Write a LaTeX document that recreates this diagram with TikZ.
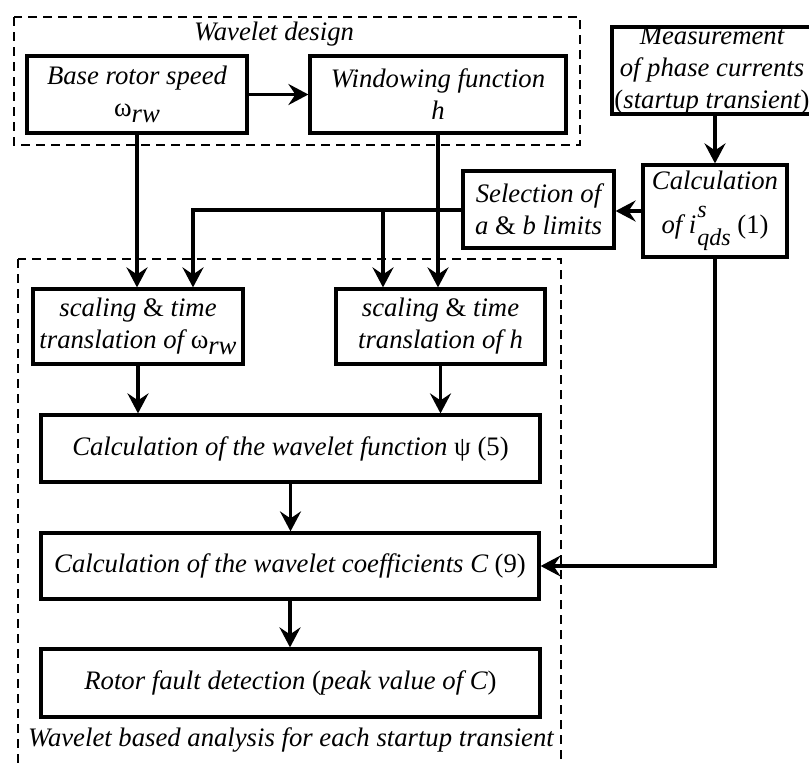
\documentclass[tikz,border=0pt]{standalone}
\usepackage{fontspec}
\setmainfont{Liberation Serif}
\usetikzlibrary{arrows.meta}
\newcommand\omrw{{\upshape ω}\raisebox{-0.25em}{\itshape rw}}
\newcommand\iqds{\textit{i}\hspace{1pt}\rlap{\raisebox{0.6em}{\fontsize{24}{24}\selectfont\itshape s}}\raisebox{-0.45em}{\fontsize{24}{24}\selectfont\itshape qds}}
\tikzset{
  boxnode/.style={draw, line width=3.2pt, align=center, inner sep=0pt, anchor=center},
  labelnode/.style={align=center, inner sep=0pt},
  arr/.style={line width=3.4pt, -{Stealth[length=20pt,width=21pt,inset=7pt]}},
  dashbox/.style={line width=2.8pt, dash pattern=on 9pt off 6pt},
}
\begin{document}
\begin{tikzpicture}[x=1pt,y=-1pt,
  every node/.style={font=\rmfamily\fontsize{26.7}{32}\selectfont\itshape}]
\clip (0,0) rectangle (809,763);
\fill[white] (0,0) rectangle (809,763);
% dashed containers
\draw[dashbox] (14,17) rectangle (580,145);
\draw[dashbox] (18,259) rectangle (561,800);
% labels
\node[labelnode] (wd) at (274,34) {Wavelet design};
\node[labelnode] (wba) at (291,740) {Wavelet based analysis for each startup transient};
% boxes
\node[boxnode, minimum width=220pt, minimum height=77pt] (base) at (137,94.5) {Base rotor speed\\\omrw};
\node[boxnode, minimum width=256pt, minimum height=77pt] (win) at (438,94.5) {Windowing function\\h};
\node[boxnode, minimum width=200pt, minimum height=87pt] (meas) at (712,70.5) {Measurement\\of phase currents\\{\upshape(}startup transient{\upshape)}};
\node[boxnode, minimum width=144pt, minimum height=92pt] (calc) at (715,211) {\raisebox{6pt}{Calculation}\\[6pt]of \iqds\ {\upshape(1)}};
\node[boxnode, minimum width=151pt, minimum height=77pt] (sel) at (538.5,209.5) {Selection of\\a {\upshape\&} b limits};
\node[boxnode, minimum width=210pt, minimum height=75pt] (scl) at (138,326.5) {scaling {\upshape\&} time\\translation of \omrw};
\node[boxnode, minimum width=209pt, minimum height=75pt] (scr) at (440.5,326.5) {scaling {\upshape\&} time\\translation of h};
\node[boxnode, minimum width=499pt, minimum height=67pt] (wf) at (290.5,448.5) {Calculation of the wavelet function {\upshape ψ (5)}};
\node[boxnode, minimum width=498pt, minimum height=66pt] (cc) at (290,566) {Calculation of the wavelet coefficients C {\upshape(9)}};
\node[boxnode, minimum width=499pt, minimum height=68pt] (rf) at (290.5,683) {Rotor fault detection {\upshape(}peak value of C{\upshape)}};
% connectors
\coordinate (j1) at (193,210);
\coordinate (j2) at (383,210);
\draw[arr] (base) -- (win);
\draw[arr] (base.south) -- (base.south |- scl.north);
\draw[arr] (win.south) -- (win.south |- scr.north);
\draw[arr] (calc.north |- meas.south) -- (calc.north);
\draw[arr] (calc.west) -- (calc.west -| sel.east);
\draw[arr] (sel.west |- j1) -- (j1) -- (j1 |- scl.north);
\draw[arr] (j2) -- (j2 |- scr.north);
\draw[arr] (scl.south) -- (scl.south |- wf.north);
\draw[arr] (scr.south) -- (scr.south |- wf.north);
\draw[arr] (wf.south) -- (wf.south |- cc.north);
\draw[arr] (cc.south) -- (cc.south |- rf.north);
\draw[arr] (calc.south) |- (cc.east);
\end{tikzpicture}
\end{document}
